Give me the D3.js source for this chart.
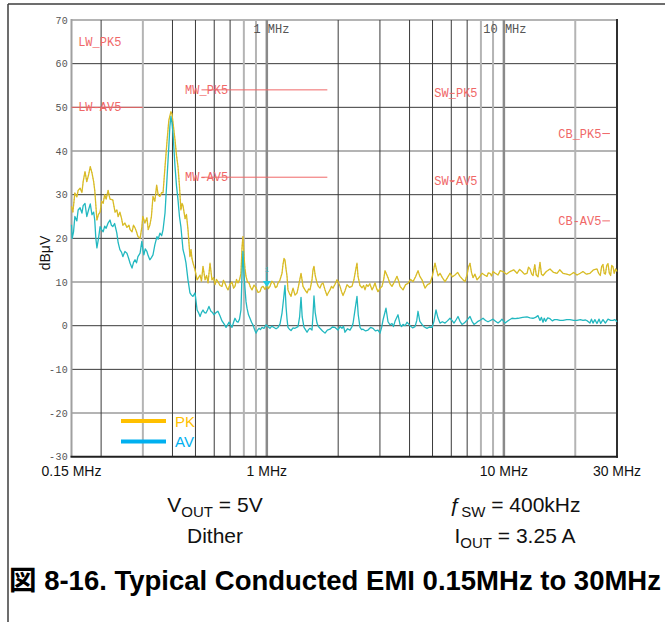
<!DOCTYPE html>
<html><head><meta charset="utf-8">
<script src="https://cdn.jsdelivr.net/npm/d3@7"></script>
<style>body{margin:0;background:#fff}svg{display:block}</style>
</head><body>
<svg id="c" width="665" height="622"></svg>
<script>
// ---- data (frequency in MHz, level in dBµV) ----
const pkData = [[0.150,27.3],[0.152,26.0],[0.155,30.4],[0.158,29.5],[0.160,31.0],[0.163,31.5],[0.166,30.5],[0.168,33.0],[0.171,35.3],[0.174,33.0],[0.177,34.5],[0.180,36.4],[0.183,35.0],[0.186,33.0],[0.188,31.0],[0.192,24.2],[0.195,25.5],[0.198,26.0],[0.201,28.5],[0.204,28.0],[0.207,30.0],[0.210,29.0],[0.214,31.0],[0.218,29.0],[0.224,28.8],[0.229,26.0],[0.233,26.5],[0.236,25.0],[0.240,26.0],[0.244,24.5],[0.247,23.0],[0.252,23.5],[0.257,22.5],[0.262,23.0],[0.265,22.0],[0.270,21.5],[0.274,23.0],[0.278,22.4],[0.282,21.5],[0.286,20.4],[0.292,20.0],[0.297,22.5],[0.300,25.0],[0.306,23.5],[0.312,24.7],[0.316,22.0],[0.321,23.0],[0.326,25.0],[0.331,29.6],[0.337,28.5],[0.343,32.2],[0.348,30.0],[0.354,29.6],[0.360,30.5],[0.365,30.4],[0.372,36.4],[0.379,42.0],[0.386,47.0],[0.394,49.0],[0.398,48.5],[0.402,46.5],[0.410,42.5],[0.416,39.0],[0.422,36.4],[0.428,32.0],[0.434,26.5],[0.439,28.0],[0.443,27.5],[0.452,24.5],[0.458,25.5],[0.465,22.0],[0.474,15.8],[0.479,17.4],[0.483,15.5],[0.488,14.4],[0.498,12.8],[0.508,10.5],[0.515,11.0],[0.523,11.6],[0.530,10.2],[0.538,13.6],[0.549,10.5],[0.557,11.5],[0.565,9.8],[0.576,14.3],[0.587,10.5],[0.596,11.0],[0.605,9.4],[0.613,10.6],[0.622,10.1],[0.635,9.2],[0.647,9.0],[0.656,10.4],[0.666,9.7],[0.676,8.8],[0.686,8.2],[0.700,9.5],[0.713,10.0],[0.724,8.6],[0.734,9.0],[0.745,10.6],[0.756,9.8],[0.767,10.5],[0.778,12.0],[0.786,18.0],[0.793,20.4],[0.801,16.0],[0.809,13.0],[0.817,11.3],[0.829,10.0],[0.841,9.8],[0.853,8.8],[0.866,8.2],[0.883,9.3],[0.900,8.7],[0.918,7.6],[0.936,7.8],[0.950,8.8],[0.964,9.0],[0.983,8.3],[1.002,9.4],[1.015,8.5],[1.031,9.0],[1.050,10.2],[1.072,9.7],[1.088,8.7],[1.104,9.0],[1.115,9.8],[1.135,10.4],[1.159,12.0],[1.170,14.0],[1.182,15.4],[1.193,15.0],[1.205,13.0],[1.217,11.3],[1.228,8.2],[1.245,7.4],[1.265,6.7],[1.278,7.8],[1.290,8.6],[1.315,7.0],[1.341,7.5],[1.360,9.0],[1.380,10.8],[1.394,12.0],[1.408,10.5],[1.421,9.0],[1.449,8.2],[1.478,7.5],[1.500,8.4],[1.521,8.2],[1.551,10.5],[1.566,12.8],[1.581,13.6],[1.600,11.5],[1.628,9.8],[1.650,9.0],[1.676,8.6],[1.700,9.5],[1.726,9.8],[1.760,8.2],[1.794,6.9],[1.820,7.6],[1.847,8.2],[1.875,9.0],[1.902,8.6],[1.939,9.5],[1.977,10.5],[2.010,9.8],[2.036,9.0],[2.066,7.8],[2.096,6.9],[2.137,8.0],[2.179,9.4],[2.230,8.8],[2.287,9.0],[2.330,10.5],[2.378,13.2],[2.401,14.3],[2.425,11.3],[2.472,9.2],[2.521,8.7],[2.560,9.2],[2.595,8.2],[2.635,9.4],[2.672,9.0],[2.720,9.6],[2.778,8.2],[2.820,8.9],[2.860,9.8],[2.900,8.6],[2.944,7.8],[3.000,8.5],[3.061,9.0],[3.110,10.5],[3.152,12.6],[3.200,11.8],[3.245,11.0],[3.310,9.6],[3.373,9.0],[3.450,10.0],[3.541,11.3],[3.600,10.2],[3.646,9.0],[3.700,8.6],[3.754,8.2],[3.850,9.4],[3.941,9.7],[4.040,10.6],[4.137,10.1],[4.240,11.2],[4.343,12.6],[4.420,11.3],[4.515,10.5],[4.580,9.6],[4.648,8.6],[4.760,9.4],[4.880,9.7],[5.000,11.5],[5.070,13.2],[5.122,14.3],[5.200,12.8],[5.280,11.4],[5.377,12.0],[5.500,11.0],[5.645,10.1],[5.780,11.0],[5.925,12.0],[6.070,11.2],[6.220,11.6],[6.380,12.2],[6.530,11.3],[6.700,10.6],[6.856,10.1],[7.000,11.8],[7.100,13.5],[7.197,14.3],[7.300,12.2],[7.409,11.0],[7.550,11.8],[7.703,10.5],[7.900,11.2],[8.086,12.0],[8.280,11.6],[8.488,11.3],[8.600,12.1],[8.740,12.0],[8.870,11.4],[8.998,12.4],[9.200,12.0],[9.445,11.6],[9.650,12.6],[9.915,12.4],[10.25,11.8],[10.61,12.4],[11.00,12.8],[11.36,12.0],[11.65,12.9],[11.92,12.4],[12.20,11.8],[12.52,12.0],[12.70,13.4],[12.89,13.0],[13.10,11.8],[13.27,11.5],[13.50,14.0],[13.70,11.6],[13.93,11.2],[14.20,14.5],[14.40,11.8],[14.62,11.5],[15.10,12.4],[15.65,13.0],[16.20,12.2],[16.75,12.0],[17.20,12.8],[17.75,12.0],[18.40,11.8],[19.00,11.6],[19.70,12.2],[20.34,11.6],[21.00,12.0],[21.56,12.4],[22.30,11.8],[23.07,12.0],[23.90,12.8],[24.70,13.0],[25.10,12.0],[25.50,11.5],[25.85,13.6],[26.18,14.0],[26.50,12.0],[26.80,11.8],[27.15,13.8],[27.49,14.2],[27.85,12.0],[28.20,11.5],[28.50,13.8],[28.85,13.5],[29.20,12.0],[29.60,13.0],[30.0,12.4]];

const avData = [[0.150,23.1],[0.151,20.0],[0.153,21.5],[0.155,25.0],[0.158,24.0],[0.160,26.5],[0.163,27.0],[0.166,25.8],[0.168,27.5],[0.171,28.0],[0.174,25.0],[0.177,26.5],[0.180,27.9],[0.183,25.4],[0.186,26.0],[0.188,24.2],[0.190,20.0],[0.192,17.8],[0.195,20.0],[0.198,22.7],[0.201,22.0],[0.204,21.5],[0.207,22.8],[0.210,22.3],[0.214,23.5],[0.218,24.2],[0.221,23.0],[0.224,22.7],[0.228,23.4],[0.233,21.2],[0.236,19.0],[0.240,17.4],[0.244,16.8],[0.247,15.8],[0.252,17.0],[0.257,16.6],[0.261,15.5],[0.265,14.3],[0.270,13.2],[0.274,14.5],[0.278,15.1],[0.282,14.4],[0.286,15.8],[0.292,16.6],[0.297,19.3],[0.300,17.5],[0.303,16.2],[0.307,17.6],[0.312,17.0],[0.316,16.0],[0.321,15.1],[0.326,15.6],[0.331,16.2],[0.337,18.5],[0.344,20.4],[0.348,19.8],[0.354,21.2],[0.360,20.6],[0.365,22.0],[0.372,25.8],[0.379,33.4],[0.386,41.0],[0.390,45.6],[0.394,47.9],[0.398,46.5],[0.402,44.0],[0.410,36.4],[0.416,32.0],[0.422,28.8],[0.428,25.0],[0.434,22.7],[0.443,17.4],[0.450,16.0],[0.456,14.4],[0.465,10.5],[0.474,7.5],[0.481,7.0],[0.488,6.7],[0.498,7.5],[0.508,3.6],[0.515,3.0],[0.523,2.1],[0.530,3.0],[0.538,3.6],[0.546,3.0],[0.554,2.9],[0.562,3.6],[0.570,4.4],[0.581,3.3],[0.590,3.0],[0.599,2.5],[0.610,3.0],[0.622,3.3],[0.635,2.2],[0.647,1.1],[0.660,0.4],[0.673,-0.4],[0.683,0.2],[0.693,0.8],[0.703,0.2],[0.713,-0.4],[0.724,0.8],[0.734,1.7],[0.745,1.0],[0.756,0.8],[0.767,1.5],[0.778,3.6],[0.786,12.0],[0.793,17.0],[0.801,12.0],[0.809,8.5],[0.817,5.5],[0.825,4.0],[0.837,2.5],[0.849,1.7],[0.862,0.8],[0.874,0.2],[0.887,-0.8],[0.900,-1.7],[0.914,-1.0],[0.927,-0.6],[0.940,-0.9],[0.954,-0.4],[0.973,-0.6],[0.992,0.2],[1.010,-0.2],[1.031,-0.6],[1.050,-0.1],[1.072,-0.4],[1.094,-0.7],[1.115,-0.4],[1.137,0.4],[1.159,2.9],[1.176,6.0],[1.193,9.2],[1.205,4.4],[1.217,1.5],[1.228,-0.4],[1.245,-0.8],[1.265,-1.1],[1.290,-0.5],[1.315,-0.6],[1.354,-0.2],[1.375,2.0],[1.394,6.5],[1.410,2.0],[1.435,-0.4],[1.455,-0.9],[1.478,-1.5],[1.500,-0.9],[1.521,-0.6],[1.551,-1.0],[1.566,2.5],[1.581,6.8],[1.600,3.0],[1.628,0.6],[1.650,-0.2],[1.676,-0.6],[1.718,-1.2],[1.760,-1.7],[1.800,-1.0],[1.847,-0.8],[1.890,-0.3],[1.939,-0.4],[1.996,-1.0],[2.036,-0.2],[2.075,-0.6],[2.105,-0.1],[2.137,-1.5],[2.190,-0.7],[2.243,-1.0],[2.287,-0.2],[2.310,0.5],[2.355,3.6],[2.401,6.7],[2.430,2.5],[2.472,-0.4],[2.510,-0.9],[2.545,-0.8],[2.610,-1.2],[2.672,-1.0],[2.740,-0.4],[2.805,-0.6],[2.870,-1.2],[2.944,-1.0],[3.002,-1.7],[3.050,-0.4],[3.091,1.3],[3.182,4.0],[3.245,0.9],[3.310,0.2],[3.373,0.5],[3.420,-0.2],[3.473,1.0],[3.576,2.5],[3.646,0.3],[3.700,-0.2],[3.754,0.3],[3.830,0.0],[3.902,0.8],[4.018,0.0],[4.120,-0.5],[4.218,-0.2],[4.290,1.2],[4.343,3.3],[4.420,1.0],[4.515,0.3],[4.620,-0.3],[4.739,-0.6],[4.850,-0.3],[4.975,-0.4],[5.070,1.0],[5.172,3.6],[5.270,1.8],[5.377,0.6],[5.500,0.9],[5.645,0.6],[5.780,1.1],[5.925,1.7],[6.040,1.2],[6.160,0.6],[6.280,1.3],[6.405,2.1],[6.530,1.0],[6.659,0.3],[6.760,0.5],[6.856,0.8],[7.020,1.4],[7.197,2.1],[7.340,1.0],[7.481,0.3],[7.630,0.6],[7.778,1.0],[7.970,1.3],[8.165,1.7],[8.370,1.2],[8.571,0.9],[8.780,1.2],[8.998,1.5],[9.220,1.0],[9.445,0.6],[9.640,1.0],[9.819,1.5],[10.11,0.6],[10.45,1.2],[10.82,1.7],[11.15,1.6],[11.47,1.7],[12.00,1.9],[12.52,2.0],[12.89,1.8],[13.27,1.7],[13.60,1.9],[13.93,2.3],[14.20,1.2],[14.40,1.9],[14.62,0.8],[14.80,1.7],[15.00,1.0],[15.30,1.8],[15.65,1.6],[16.00,1.1],[16.35,1.4],[16.75,1.4],[17.25,1.2],[17.75,1.2],[18.40,1.4],[19.00,1.4],[19.70,1.2],[20.34,1.2],[21.00,1.4],[21.56,1.2],[22.10,1.3],[22.50,1.1],[23.07,0.6],[23.40,1.5],[23.76,0.6],[24.20,1.4],[24.70,0.5],[25.20,1.5],[25.60,0.5],[26.18,1.4],[26.80,0.6],[27.49,1.5],[28.20,1.2],[28.85,1.2],[29.40,1.4],[30.0,0.9]];

const yTicks = [-30,-20,-10,0,10,20,30,40,50,60,70];
const gridFreqs = [0.2,0.3,0.4,0.5,0.6,0.7,0.8,0.9,1,2,3,4,5,6,7,8,9,10,20];
const xTickFreqs = [0.15,1,10,30];
const xTickLabels = ["0.15 MHz","1 MHz","10 MHz","30 MHz"];
const topMarkFreqs = [1,10];
const topMarkLabels = ["1 MHz","10 MHz"];

// limit lines (CISPR 25 class 5 bands)
const limitStart = [0.15,0.53,0.53,5.9,5.9,26,26];
const limitEnd   = [0.30,1.8,1.8,6.2,6.2,28,28];
const limitLevel = [50,54,34,53.2,33.2,44,24];

// limit labels
const limitNames = ["LW_PK5","LW-AV5","MW_PK5","MW-AV5","SW_PK5","SW-AV5","CB_PK5","CB-AV5"];
const limitNameFreq = [0.16,0.16,0.452,0.452,5.09,5.09,16.96,16.96];
const limitNameLevel = [65,50,54,34,53.2,33.2,44,24];

const seriesNames = ["PK","AV"];
const markerFreq = 1.0, markerLevel = 9.3;

// ---- drawing ----
const svg = d3.select("#c");
const L = 71.5, R = 617, T = 20, B = 456.7;
const x = d3.scaleLog().domain([0.15,30]).range([L,R]);
const y = d3.scaleLinear().domain([-30,70]).range([B,T]);

// outer frame
svg.append("line").attr("x1",8).attr("y1",4).attr("x2",665).attr("y2",4).attr("stroke","#3c3c3c").attr("stroke-width",1.5);
svg.append("line").attr("x1",8).attr("y1",4).attr("x2",8).attr("y2",622).attr("stroke","#3c3c3c").attr("stroke-width",1.5);

const g = svg.append("g");
const lightY = new Set([70,40,10,-20]);
const lightX = new Set([0.3,0.8,0.9,8,9,20]);
const medX = new Set([1,10]);

// horizontal grid
g.selectAll("line.hy").data(yTicks.filter(d=>d>-30)).enter().append("line")
  .attr("x1",L).attr("x2",R).attr("y1",d=>y(d)).attr("y2",d=>y(d))
  .attr("stroke",d=>lightY.has(d)?"#b4b4b4":"#3a3a3a")
  .attr("stroke-width",d=>lightY.has(d)?2:1);
// vertical grid
g.selectAll("line.vx").data(gridFreqs).enter().append("line")
  .attr("x1",d=>x(d)).attr("x2",d=>x(d)).attr("y1",T).attr("y2",B)
  .attr("stroke",d=>medX.has(d)?"#8a8a8a":(lightX.has(d)?"#b4b4b4":"#3a3a3a"))
  .attr("stroke-width",d=>medX.has(d)?2.5:(lightX.has(d)?2:1));
// borders
g.append("line").attr("x1",L).attr("x2",L).attr("y1",T-1).attr("y2",B).attr("stroke","#a0a0a0").attr("stroke-width",2);
g.append("line").attr("x1",R).attr("x2",R).attr("y1",T-1).attr("y2",B+1).attr("stroke","#303030").attr("stroke-width",2);
g.append("line").attr("x1",L-1).attr("x2",R+1).attr("y1",B).attr("y2",B).attr("stroke","#202020").attr("stroke-width",2);

// y tick labels
svg.selectAll("text.yt").data(yTicks).enter().append("text")
  .attr("x",68).attr("y",d=>y(d)+3.5).attr("text-anchor","end")
  .attr("font-family","'Liberation Mono','DejaVu Sans Mono',monospace").attr("font-size",10)
  .attr("letter-spacing",0.3).attr("fill","#555").text(d=>d);

// top MHz marks
svg.selectAll("text.tm").data(topMarkFreqs).enter().append("text")
  .attr("x",(d,i)=>x(d)-(topMarkLabels[i].length-3)*7.2+1).attr("y",33)
  .attr("font-family","'Liberation Mono','DejaVu Sans Mono',monospace").attr("font-size",12)
  .attr("fill","#555").text((d,i)=>topMarkLabels[i]);

// limit lines
svg.selectAll("line.lim").data(limitLevel).enter().append("line")
  .attr("x1",(d,i)=>x(limitStart[i])).attr("x2",(d,i)=>x(limitEnd[i]))
  .attr("y1",d=>y(d)).attr("y2",d=>y(d)).attr("stroke","#f06868").attr("stroke-width",1);
svg.selectAll("text.lim").data(limitNames).enter().append("text")
  .attr("x",(d,i)=>x(limitNameFreq[i])).attr("y",(d,i)=>y(limitNameLevel[i])+4)
  .attr("font-family","'Liberation Mono','DejaVu Sans Mono',monospace").attr("font-size",12)
  .attr("fill","#f06868").text(d=>d);

// traces
const line = d3.line().x(d=>x(d[0])).y(d=>y(d[1]));
svg.append("path").attr("d",line(pkData)).attr("fill","none").attr("stroke","#d6c424").attr("stroke-width",1.3).attr("stroke-linejoin","round");
svg.append("path").attr("d",line(pkData)).attr("fill","none").attr("stroke","#e8923a").attr("stroke-width",0.8).attr("stroke-dasharray","1 2").attr("opacity",0.8);
svg.append("path").attr("d",line(avData)).attr("fill","none").attr("stroke","#22b8c0").attr("stroke-width",1.3).attr("stroke-linejoin","round");

// marker 1
const mx = x(markerFreq), my = y(markerLevel);
svg.append("line").attr("x1",mx).attr("x2",mx).attr("y1",my-12).attr("y2",my-3).attr("stroke","#22b8c0").attr("stroke-width",1);
svg.append("path").attr("d",`M${mx-4},${my-4}L${mx+4},${my-4}L${mx},${my+2}Z`).attr("fill","#22c8e0");
svg.append("text").attr("x",mx).attr("y",my-13).attr("text-anchor","middle").attr("font-family","'Liberation Mono',monospace").attr("font-size",7).attr("fill","#22b8c0").text("1");

// x labels
svg.selectAll("text.xl").data(xTickFreqs).enter().append("text")
  .attr("x",d=>x(d)).attr("y",476).attr("text-anchor","middle")
  .attr("font-family","'Liberation Sans',Arial,sans-serif").attr("font-size",14)
  .attr("fill","#111").text((d,i)=>xTickLabels[i]);

// y title
svg.append("text").attr("transform","translate(50,253) rotate(-90)").attr("text-anchor","middle")
  .attr("font-family","'Liberation Sans',Arial,sans-serif").attr("font-size",14).attr("fill","#111").text("dBμV");

// legend
const legColors = ["#ffc000","#00b0f0"];
const legY = [421,441.5];
seriesNames.forEach((s,i)=>{
  svg.append("line").attr("x1",121).attr("x2",166).attr("y1",legY[i]).attr("y2",legY[i]).attr("stroke",legColors[i]).attr("stroke-width",4);
  svg.append("text").attr("x",175).attr("y",legY[i]+5.5).attr("font-family","'Liberation Sans',Arial,sans-serif").attr("font-size",15).attr("fill",legColors[i]).text(s);
});

// conditions text
const ff = "'Liberation Sans',Arial,sans-serif";
function cond(cx, cy, parts){
  const t = svg.append("text").attr("x",cx).attr("y",cy).attr("text-anchor","middle").attr("font-family",ff).attr("font-size",21).attr("fill","#111");
  parts.forEach(p=>{
    const ts = t.append("tspan").text(p[0]);
    if(p[1]==="sub") ts.attr("font-size",15).attr("dy",5);
    if(p[1]==="up") ts.attr("dy",-5);
  });
}
cond(215,512,[["V"],["OUT","sub"],[" = 5V","up"]]);
cond(215,543,[["Dither"]]);
cond(515,512,[["ƒ"],["SW","sub"],[" = 400kHz","up"]]);
cond(515,543,[["I"],["OUT","sub"],[" = 3.25 A","up"]]);

svg.append("text").attr("x",335).attr("y",590).attr("text-anchor","middle")
  .attr("font-family","'Liberation Sans',Arial,'Noto Sans CJK JP',sans-serif").attr("font-size",27.5).attr("font-weight","bold")
  .attr("fill","#000").text("図 8-16. Typical Conducted EMI 0.15MHz to 30MHz");
</script>
</body></html>
